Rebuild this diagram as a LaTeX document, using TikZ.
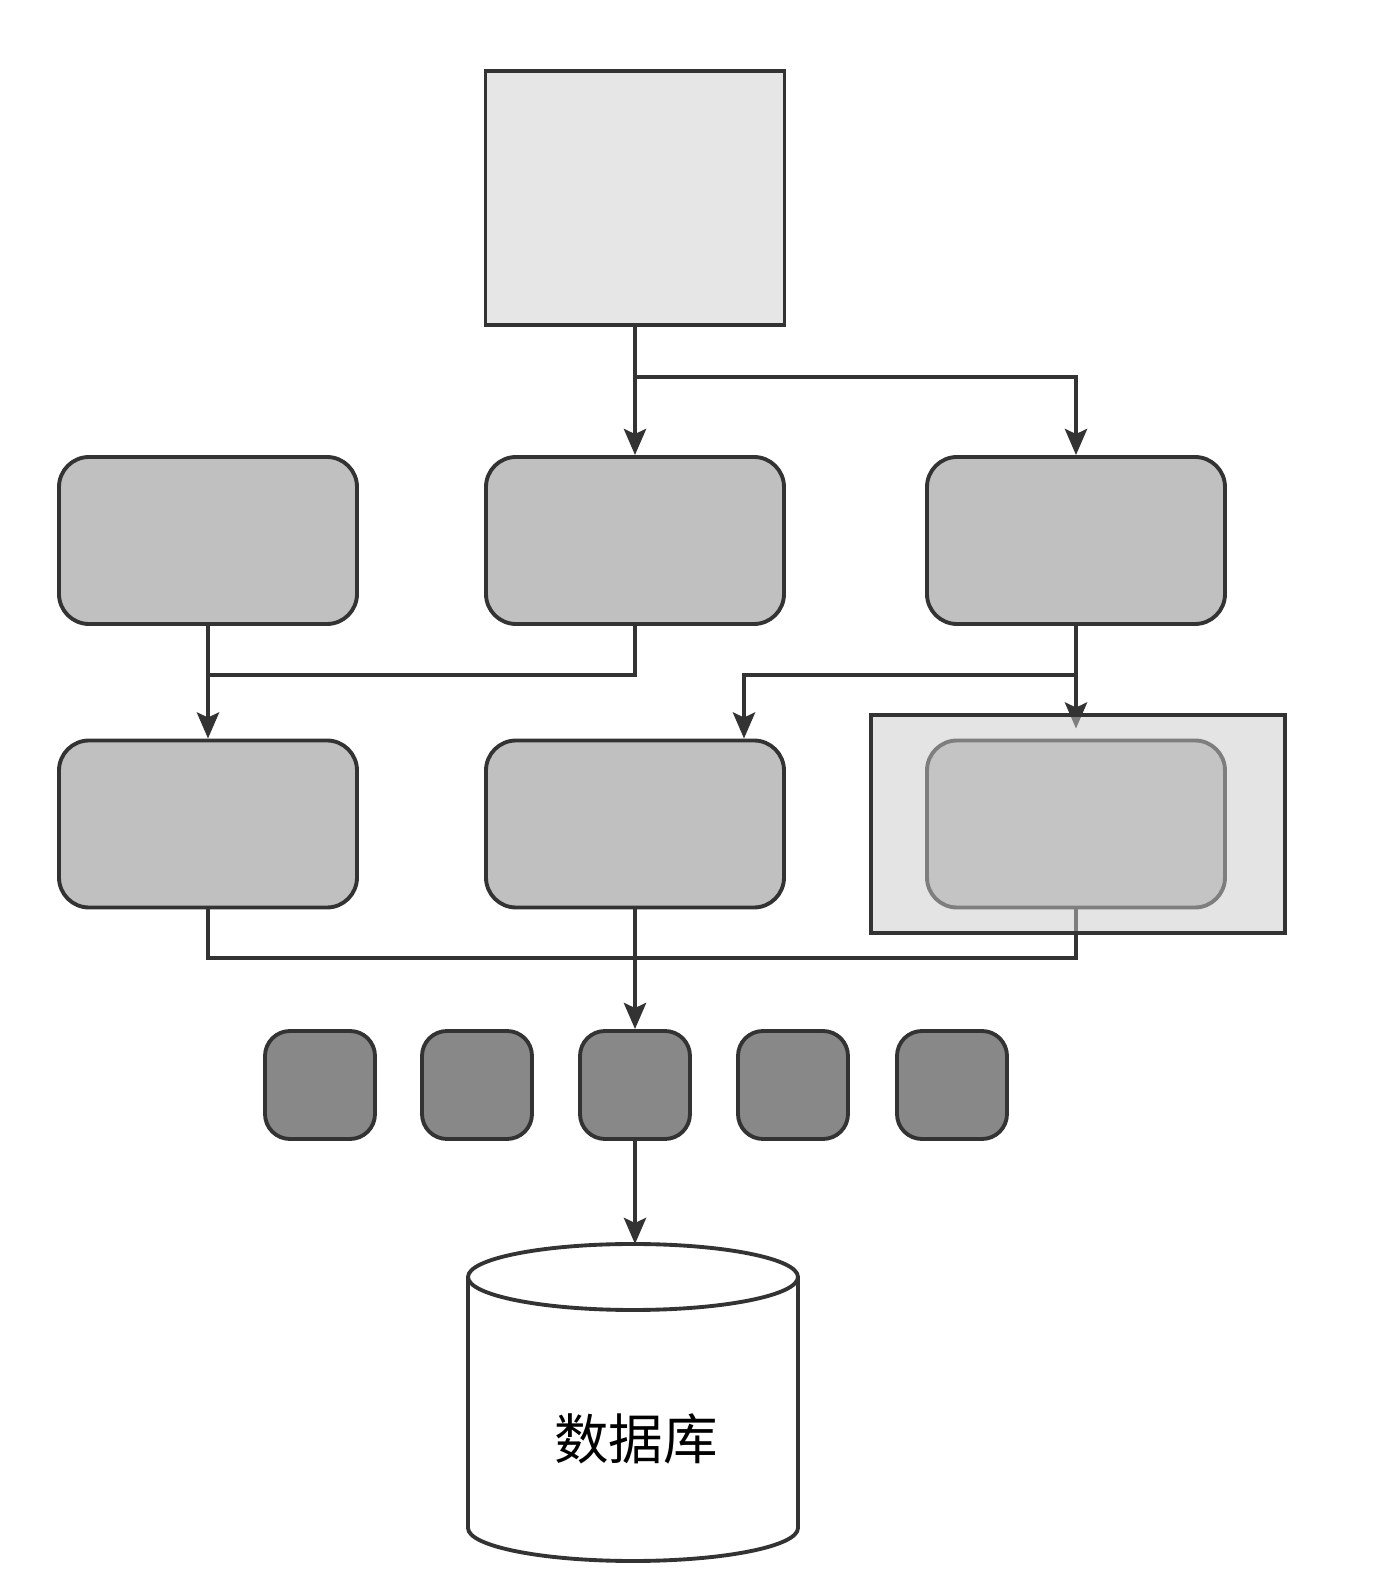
\documentclass[tikz,border=0pt]{standalone}
\usepackage{fontspec}
\usepackage{xcolor}
\usepackage{tikz}
\usetikzlibrary{arrows.meta}
\newfontfamily\cjk{Noto Sans CJK SC}

\definecolor{edge}{HTML}{333333}
\definecolor{pale}{HTML}{E6E6E6}
\definecolor{mid}{HTML}{C0C0C0}
\definecolor{darkfill}{HTML}{888888}

\begin{document}
\begin{tikzpicture}[
  topbox/.style={draw=edge, line width=1.1pt, fill=pale, minimum width=2.99cm, minimum height=2.54cm},
  svc/.style={draw=edge, line width=1.1pt, fill=mid, rounded corners=0.3cm, minimum width=2.98cm, minimum height=1.67cm},
  unit/.style={draw=edge, line width=1.1pt, fill=darkfill, rounded corners=0.25cm, minimum width=1.1cm, minimum height=1.08cm},
  overlay/.style={draw=edge, line width=1.1pt, fill=black!21, fill opacity=0.5, draw opacity=1, minimum width=4.14cm, minimum height=2.18cm},
  arr/.style={-{Stealth[length=2.6mm, width=2.2mm, inset=0.5mm]}, line width=1.3pt, draw=edge},
  link/.style={line width=1pt, draw=edge}
]
  \useasboundingbox (0,0) rectangle (13.96,15.84);

  % top
  \node[topbox] (top) at (6.35,13.86) {};

  % first row
  \node[svc] (l1) at (2.08,10.435) {};
  \node[svc] (m1) at (6.35,10.435) {};
  \node[svc] (r1) at (10.76,10.435) {};

  % second row
  \node[svc] (l2) at (2.08,7.60) {};
  \node[svc] (m2) at (6.35,7.60) {};
  \node[svc] (r2) at (10.76,7.60) {};

  % small units
  \foreach \i/\x in {1/3.20, 2/4.77, 3/6.35, 4/7.93, 5/9.52}
    \node[unit] (s\i) at (\x,4.99) {};

  % database
  \draw[edge, line width=1.1pt, fill=white] (4.68,3.07) -- (4.68,0.56)
    arc[start angle=180, end angle=360, x radius=1.65cm, y radius=0.33cm]
    -- (7.98,3.07) arc[start angle=0, end angle=360, x radius=1.65cm, y radius=0.33cm];
  \node[font=\cjk\fontsize{15.5}{18}\selectfont] (db) at (6.36,1.45) {数据库};
  \coordinate (dbtop) at (6.35,3.40);

  % connectors
  \coordinate (j1) at (6.35,12.07);
  \draw[arr] (top.south) -- (m1.north);
  \draw[arr] (j1) -| (r1.north);

  \coordinate (j2) at (2.08,9.09);
  \coordinate (j3) at (10.76,9.09);
  \draw[arr] (l1.south) -- (l2.north);
  \draw[link] (m1.south) |- (j2);
  \draw[arr] (r1.south) -- ([yshift=0.1cm]r2.north);
  \draw[arr] (j3) -| ([xshift=1.09cm]m2.north);

  \coordinate (j4) at (6.35,6.26);
  \draw[link] (l2.south) |- (j4);
  \draw[link] (r2.south) |- (j4);
  \draw[arr] (m2.south) -- (s3.north);
  \draw[arr] (s3.south) -- (dbtop);

  % highlight frame
  \node[overlay] (hl) at (10.78,7.60) {};
\end{tikzpicture}
\end{document}
